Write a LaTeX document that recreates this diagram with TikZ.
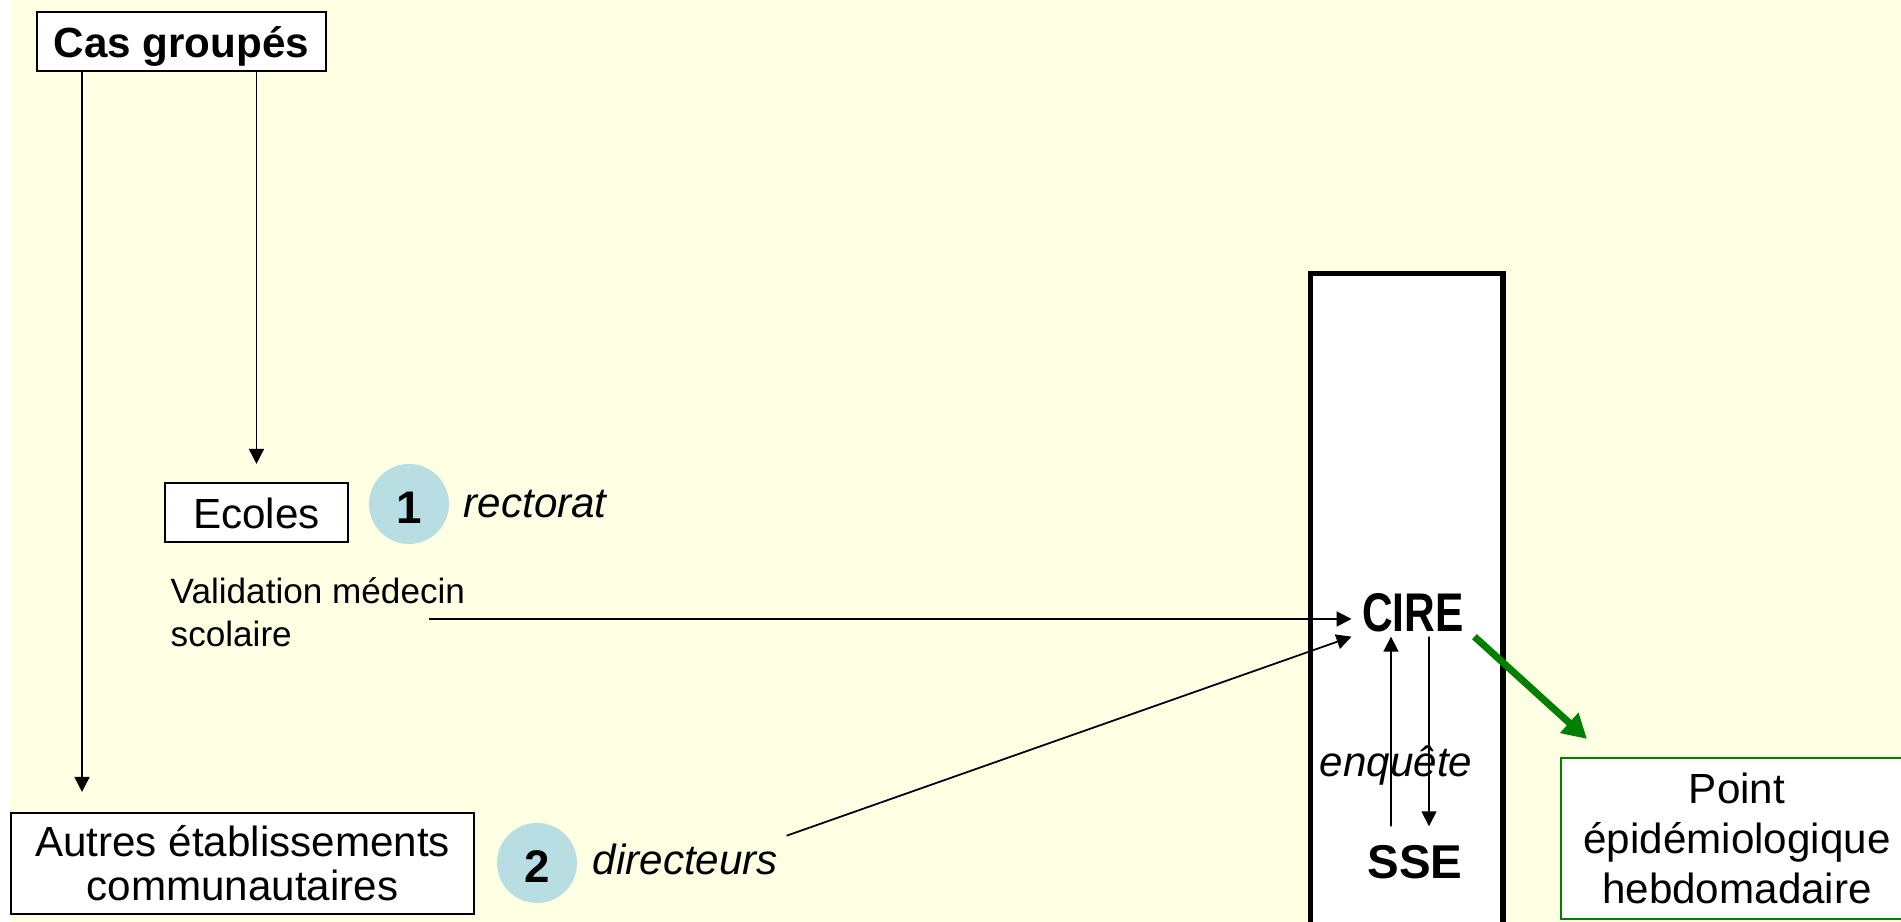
\documentclass[tikz,border=0pt]{standalone}
\usepackage{fontspec}
\setmainfont{Liberation Sans}
\newfontfamily\etroit[FakeStretch=0.78]{Liberation Sans}
\usepackage{tikz}
\usetikzlibrary{arrows.meta,positioning,calc}

\definecolor{fond}{RGB}{255,255,228}
\definecolor{pastille}{RGB}{184,222,227}
\definecolor{vert}{RGB}{0,128,0}

\tikzset{
  boite/.style={draw, fill=white, line width=0.6pt, inner sep=0pt, align=center},
  rond/.style={circle, fill=pastille, minimum size=0.8cm, inner sep=0pt,
               font=\fontsize{13}{15}\selectfont\bfseries, text height=0.4cm, text depth=0pt},
  etiq/.style={inner sep=0.8mm, font=\fontsize{12}{14}\selectfont\itshape},
  fleche/.style={-{Triangle[length=1.5mm,width=1.5mm]}, line width=0.5pt},
}

\begin{document}
\begin{tikzpicture}
\useasboundingbox (0,0) rectangle (19.01,9.22);
\fill[white] (0,0) rectangle (0.10,9.22);
\fill[fond] (0.10,0) rectangle (19.01,9.22);

% cadre CIRE / SSE
\filldraw[fill=white, line width=1.6pt] (13.105,-0.2) rectangle (15.03,6.485);

\node[boite, minimum width=2.89cm, minimum height=0.59cm, text height=0.43cm, text depth=0.1cm,
      font=\fontsize{12}{14}\selectfont\bfseries] (casgr) at (1.815,8.805) {Cas group\'es};
\node[boite, minimum width=1.83cm, minimum height=0.59cm, text height=0.43cm, text depth=0.1cm,
      font=\fontsize{12}{14}\selectfont] (ecoles) at (2.565,4.095) {Ecoles};
\node[boite, minimum width=4.63cm, minimum height=1.01cm,
      font=\fontsize{12}{12.5}\selectfont] (autres) at (2.425,0.585) {Autres \'etablissements\\communautaires};

\node[rond] (un) at (4.09,4.18) {1};
\node[rond] (deux) at (5.37,0.59) {2};
\node[etiq, anchor=base west] (rectorat) at (4.55,4.04) {rectorat};
\node[etiq, anchor=base west] (dir) at (5.84,0.47) {directeurs};

\node[anchor=base west, inner sep=0.8mm, align=left, font=\fontsize{10}{12.5}\selectfont]
      (valid) at (1.62,2.75) {Validation m\'edecin\\scolaire};
\coordinate (valid-out) at (4.29,3.03);

\node[anchor=base, inner xsep=0.1cm, inner ysep=0pt, text height=0.39cm, text depth=0.04cm,
      font=\etroit\fontsize{15.5}{17}\selectfont\bfseries] (cire) at (14.13,2.90) {CIRE};
\node[anchor=base, inner xsep=0.1cm, inner ysep=0.17cm, text height=0.35cm, text depth=0pt,
      font=\fontsize{13.5}{15}\selectfont\bfseries] (sse) at (14.15,0.43) {SSE};
\node[etiq, anchor=base, inner sep=0pt] (enquete) at (13.96,1.45) {enqu\^ete};

\node[draw=vert, fill=white, line width=0.6pt, minimum width=3.52cm, minimum height=1.61cm,
      inner sep=0pt, align=center, font=\fontsize{12}{14.2}\selectfont]
      (point) at (17.37,0.835) {Point\\\'epid\'emiologique\\hebdomadaire};

% fleches
\draw[fleche] ([xshift=-0.995cm]casgr.south) coordinate (g) -- ([yshift=0.2cm]g |- autres.north);
\draw[fleche] (casgr.south -| ecoles.north) -- ([yshift=0.18cm]ecoles.north);
\draw[fleche] (valid-out) -- (valid-out -| cire.west);
\draw[fleche] (dir.north east) -- (cire.south west);
\draw[fleche] ([xshift=-0.24cm]sse.north) -- ([xshift=-0.22cm]cire.south);
\draw[fleche] ([xshift=0.16cm]cire.south) -- ([xshift=0.14cm]sse.north);
\draw[vert, line width=2pt, -{Triangle[length=2.4mm,width=2.6mm]}]
      (cire.south east) -- ([shift={(0.27,0.18)}]point.north west);
\end{tikzpicture}
\end{document}
